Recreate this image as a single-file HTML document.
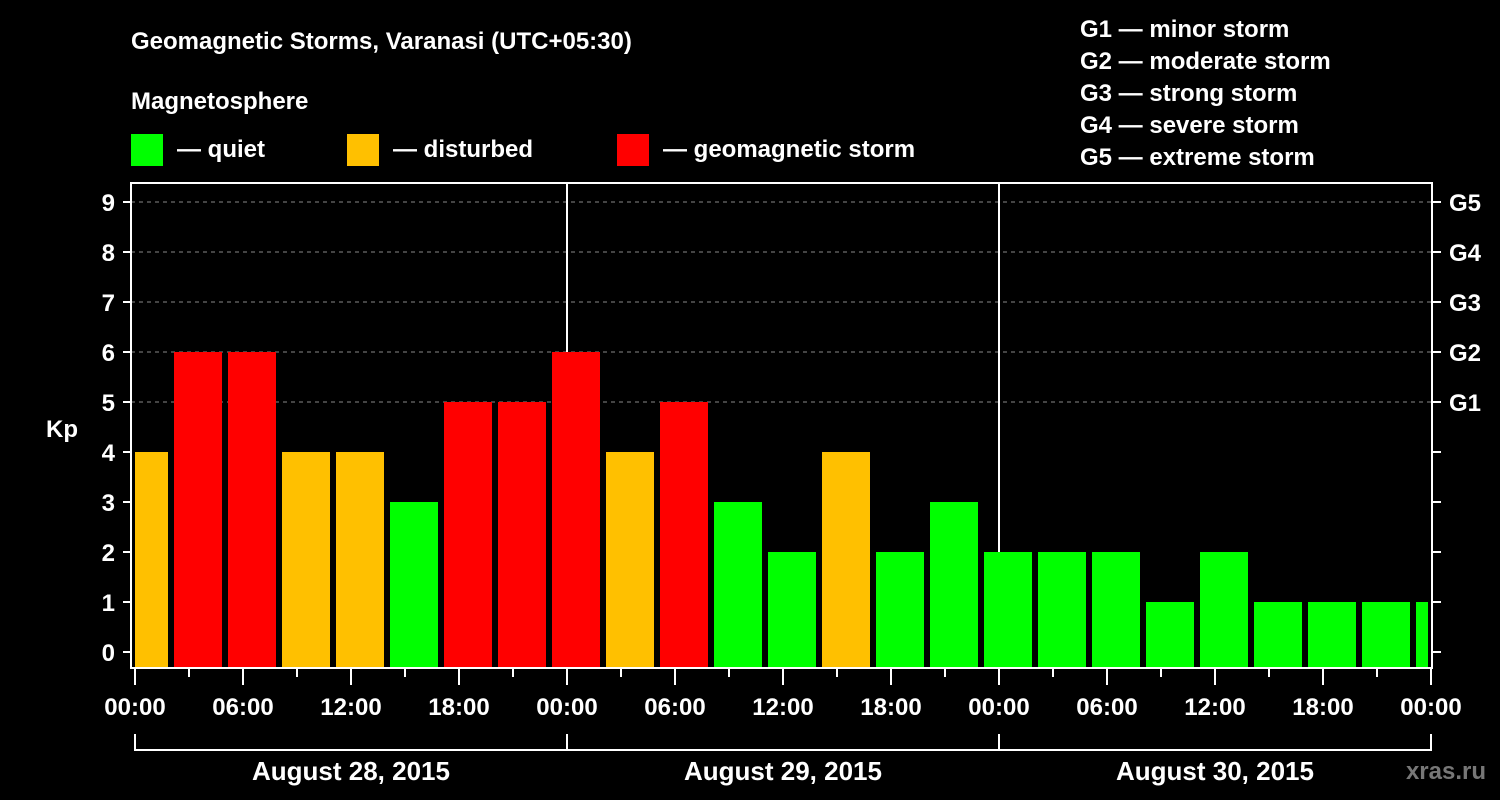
<!DOCTYPE html>
<html><head><meta charset="utf-8"><style>
body{margin:0;background:#000;}
svg{display:block;font-family:"Liberation Sans",sans-serif;font-weight:bold;}
</style></head><body>
<svg id="c" width="1500" height="800" viewBox="0 0 1500 800">
<rect width="1500" height="800" fill="#000"/>
<text x="131" y="49" fill="#fff" font-size="24">Geomagnetic Storms, Varanasi (UTC+05:30)</text>
<text x="131" y="109" fill="#fff" font-size="24">Magnetosphere</text>
<g><rect x="131" y="134" width="32" height="32" fill="#00ff00"/><text x="177" y="157" fill="#fff" font-size="24">— quiet</text></g>
<g><rect x="347" y="134" width="32" height="32" fill="#ffc000"/><text x="393" y="157" fill="#fff" font-size="24">— disturbed</text></g>
<g><rect x="617" y="134" width="32" height="32" fill="#ff0000"/><text x="663" y="157" fill="#fff" font-size="24">— geomagnetic storm</text></g>
<g fill="#fff" font-size="24">
<text x="1080" y="37">G1 — minor storm</text>
<text x="1080" y="69">G2 — moderate storm</text>
<text x="1080" y="101">G3 — strong storm</text>
<text x="1080" y="133">G4 — severe storm</text>
<text x="1080" y="165">G5 — extreme storm</text>
</g>
<text x="62" y="437" fill="#fff" font-size="24" text-anchor="middle">Kp</text>
<text x="1486" y="779" fill="#777" font-size="24" text-anchor="end">xras.ru</text>
<g id="grid"></g><g id="bars"></g><g id="axes"></g>
</svg>
<script>
const kpValues=[4,6,6,4,4,3,5,5,6,4,5,3,2,4,2,3,2,2,2,1,2,1,1,1,1];
const yTicks=[0,1,2,3,4,5,6,7,8,9];
const gLabels=["G1","G2","G3","G4","G5"];
const gLevels=[5,6,7,8,9];
const xLabels=["00:00","06:00","12:00","18:00","00:00","06:00","12:00","18:00","00:00","06:00","12:00","18:00","00:00"];
const dayLabels=["August 28, 2015","August 29, 2015","August 30, 2015"];
const firstBlockHour=-1, blockHours=3;
const NS="http://www.w3.org/2000/svg";
const X0=135,PXH=18,Y0=652,PXK=50,L=131,R=1432,T=183,B=668;
const xs=h=>X0+h*PXH, ys=k=>Y0-k*PXK;
function mk(t,a,p){const e=document.createElementNS(NS,t);for(const k in a)e.setAttribute(k,a[k]);p.appendChild(e);return e;}
const grid=document.getElementById('grid'),bars=document.getElementById('bars'),ax=document.getElementById('axes');
gLevels.forEach((g,i)=>{
 const l=mk('line',{x1:L,x2:R,y1:ys(g),y2:ys(g),stroke:'#888','stroke-dasharray':'4,4','stroke-width':1},grid);
 
 
 const t=mk('text',{x:1449,y:ys(g)+9,fill:'#fff','font-size':24},ax);t.textContent=gLabels[i];
 
 
});
[1,2].forEach(d=>{const l=mk('line',{x1:xs(24*d),x2:xs(24*d),y1:T,y2:B,stroke:'#fff','stroke-width':2},grid);
 
 });
kpValues.forEach((v,i)=>{
 let a=xs(firstBlockHour+i*blockHours)+3,b=xs(firstBlockHour+(i+1)*blockHours)-3;
 a=Math.max(a,X0);b=Math.min(b,1428);
 const c=v>=5?'#ff0000':v==4?'#ffc000':'#00ff00';
 const r=mk('rect',{x:a,y:ys(v),width:b-a,height:667-ys(v),fill:c},bars);
 
 
});
const f=mk('rect',{x:L,y:T,width:R-L,height:B-T,fill:'none',stroke:'#fff','stroke-width':2},ax);


yTicks.forEach(k=>{
 mk('line',{x1:123,x2:L,y1:ys(k),y2:ys(k),stroke:'#fff','stroke-width':2},ax);
 mk('line',{x1:R,x2:1441,y1:ys(k),y2:ys(k),stroke:'#fff','stroke-width':2},ax);
 const t=mk('text',{x:115,y:ys(k)+9,fill:'#fff','font-size':24,'text-anchor':'end'},ax);t.textContent=k;
 
 
});
for(let h=0;h<=72;h+=3){const maj=h%6==0;mk('line',{x1:xs(h),x2:xs(h),y1:B,y2:maj?685:677,stroke:'#fff','stroke-width':2},ax);}
xLabels.forEach((s,i)=>{const t=mk('text',{x:xs(i*6),y:715,fill:'#fff','font-size':24,'text-anchor':'middle'},ax);t.textContent=s;
 
 });
dayLabels.forEach((s,d)=>{
 mk('path',{d:`M${xs(24*d)},734V750H${xs(24*d+24)}V734`,fill:'none',stroke:'#fff','stroke-width':2},ax);
 const t=mk('text',{x:xs(24*d+12),y:780,fill:'#fff','font-size':26,'text-anchor':'middle'},ax);t.textContent=s;
 
 
});
</script>
</body></html>
